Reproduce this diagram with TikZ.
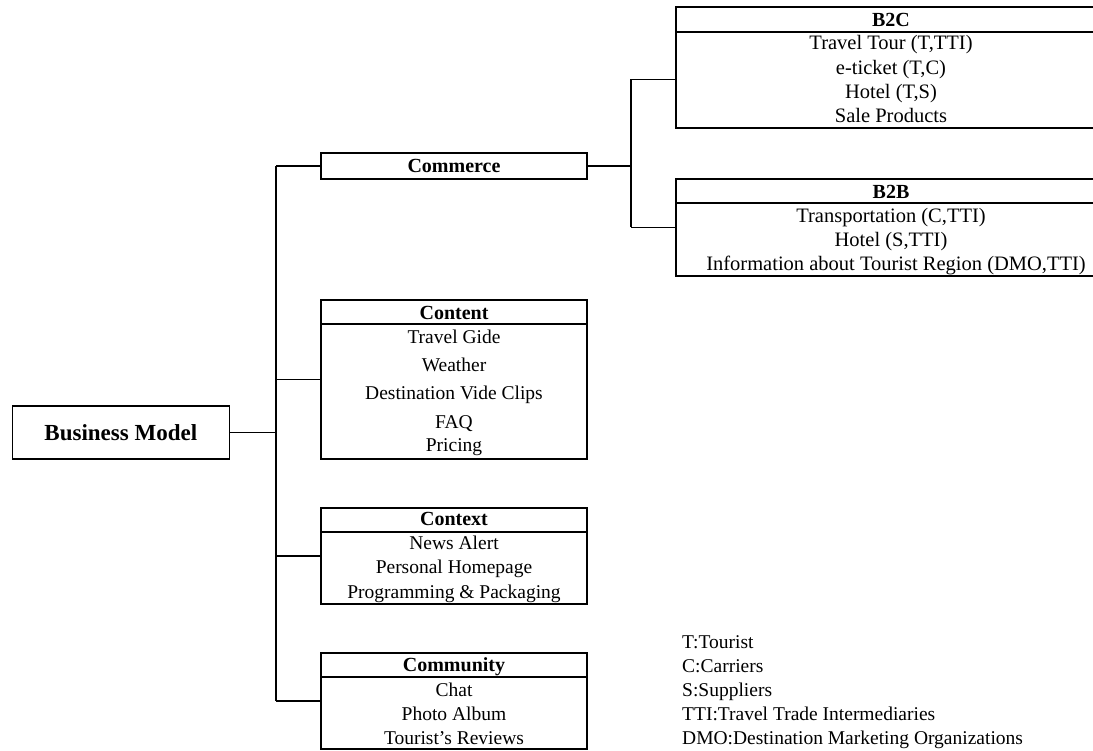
\documentclass[tikz,border=0pt]{standalone}
\usepackage{fontspec}
\setmainfont{Liberation Serif}
\usetikzlibrary{calc}
\begin{document}
\begin{tikzpicture}[x=1pt,y=-1pt,
  box/.style={draw, line width=1.3pt, inner sep=0pt, rectangle},
  conn/.style={line width=1.3pt},
  hdr/.style={line width=1.3pt},
  txt/.style={inner sep=0pt, font=\fontsize{19.5}{23}\selectfont, text height=14pt, text depth=1pt},
  rtxt/.style={txt, font=\fontsize{20.5}{24}\selectfont},
  ttl/.style={inner sep=0pt, font=\fontsize{20}{24}\selectfont\bfseries, text height=14pt, text depth=1pt},
  leg/.style={txt, anchor=west},
]
\useasboundingbox (0,0) rectangle (1093,751);
\clip (0,0) rectangle (1093,751);

% boxes
\node[box, minimum width=217pt, minimum height=53pt, font=\fontsize{23}{27}\selectfont\bfseries] (bm) at (120.8,432.5) {Business Model};
\node[box, minimum width=266pt, minimum height=26pt] (commerce) at (454,166) {};
\node[box, minimum width=266pt, minimum height=159pt] (content) at (454,379.5) {};
\node[box, minimum width=266pt, minimum height=96pt] (context) at (454,556) {};
\node[box, minimum width=266pt, minimum height=96pt] (community) at (454,701) {};
\node[box, minimum width=428pt, minimum height=121pt] (b2c) at (890,67.5) {};
\node[box, minimum width=428pt, minimum height=97pt] (b2b) at (890,227.5) {};

% header lines
\draw[hdr] (content.west |- 0,324) -- (content.east |- 0,324);
\draw[hdr] (context.west |- 0,532) -- (context.east |- 0,532);
\draw[hdr] (community.west |- 0,677) -- (community.east |- 0,677);
\draw[hdr] (b2c.west |- 0,32) -- (b2c.east |- 0,32);
\draw[hdr] (b2b.west |- 0,203) -- (b2b.east |- 0,203);

% texts
\node[ttl] (commerceT) at (454,166) {Commerce};

\node[ttl] (contentT) at (454,313) {Content};
\node[txt] (c1) at (454,337) {Travel Gide};
\node[txt] (c2) at (454,365) {Weather};
\node[txt] (c3) at (454,393) {Destination Vide Clips};
\node[txt] (c4) at (454,422) {FAQ};
\node[txt] (c5) at (454,445) {Pricing};

\node[ttl] (contextT) at (454,519) {Context};
\node[txt] (x1) at (454,543) {News Alert};
\node[txt] (x2) at (454,567) {Personal Homepage};
\node[txt] (x3) at (454,592) {Programming \& Packaging};

\node[ttl] (communityT) at (454,665) {Community};
\node[txt] (m1) at (454,690) {Chat};
\node[txt] (m2) at (454,714) {Photo Album};
\node[txt] (m3) at (454,738) {Tourist{\char"0027}s Reviews};

\node[ttl] (b2cT) at (891,20) {B2C};
\node[rtxt] (p1) at (891,43) {Travel Tour (T,TTI)};
\node[rtxt] (p2) at (891,68) {e-ticket (T,C)};
\node[rtxt] (p3) at (891,92) {Hotel (T,S)};
\node[rtxt] (p4) at (891,116) {Sale Products};

\node[ttl] (b2bT) at (891,192) {B2B};
\node[rtxt] (q1) at (891,216) {Transportation (C,TTI)};
\node[rtxt] (q2) at (891,240) {Hotel (S,TTI)};
\node[rtxt] (q3) at (896,264) {Information about Tourist Region (DMO,TTI)};

% legend
\node[leg] (l1) at (682,642) {T:Tourist};
\node[leg] (l2) at (682,666) {C:Carriers};
\node[leg] (l3) at (682,690) {S:Suppliers};
\node[leg] (l4) at (682,714) {TTI:Travel Trade Intermediaries};
\node[leg] (l5) at (682,738) {DMO:Destination Marketing Organizations};

% connectors
\coordinate (tx) at (276,0);
\draw[conn] (bm.east) -- (bm.east -| tx);
\draw[conn] (commerce.west -| tx) -- (community.west -| tx);
\draw[conn] (commerce.west -| tx) -- (commerce.west);
\draw[conn] (content.west -| tx) -- (content.west);
\draw[conn] (context.west -| tx) -- (context.west);
\draw[conn] (community.west -| tx) -- (community.west);

\coordinate (cx) at (631,0);
\coordinate (b2cin) at ($(b2c.north west)+(0,73)$);
\draw[conn] (commerce.east) -- (commerce.east -| cx);
\draw[conn] (b2cin -| cx) -- (b2b.west -| cx);
\draw[conn] (b2cin -| cx) -- (b2cin);
\draw[conn] (b2b.west -| cx) -- (b2b.west);
\end{tikzpicture}
\end{document}
